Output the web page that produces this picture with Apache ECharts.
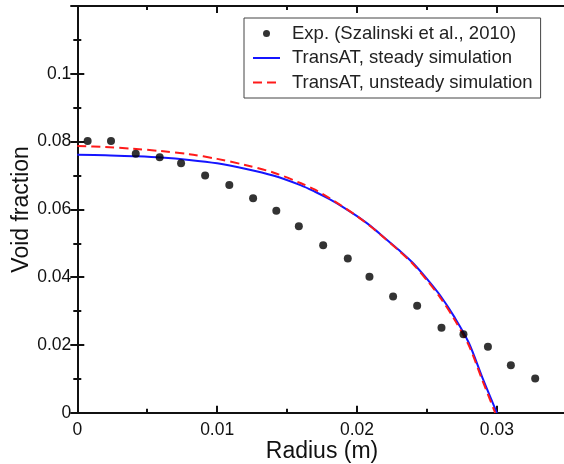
<!DOCTYPE html>
<html>
<head>
<meta charset="utf-8">
<script src="https://cdn.jsdelivr.net/npm/echarts@6/dist/echarts.min.js"></script>
<style>
html,body{margin:0;padding:0;background:#fff;}
#chart{width:564px;height:464px;}
</style>
</head>
<body>
<div id="chart"></div>
<script>
// Experimental data (Szalinski et al., 2010)
const expRadius = [0.00074,0.00241,0.00418,0.00589,0.00742,0.00914,0.01087,0.01257,0.01423,0.01584,0.01758,0.01934,0.02089,0.02258,0.02430,0.02604,0.02761,0.02936,0.03100,0.03274];
const expVoid   = [0.0802,0.0802,0.0764,0.0754,0.0736,0.0700,0.0672,0.0633,0.0596,0.0550,0.0494,0.0455,0.0401,0.0343,0.0316,0.0251,0.0232,0.0195,0.0140,0.0101];

// TransAT steady simulation
const steadyRadius = [0,0.002,0.004,0.006,0.008,0.010,0.012,0.014,0.016,0.017,0.018,0.019,0.020,0.021,0.022,0.023,0.024,0.025,0.026,0.027,0.028,0.029,0.030];
const steadyVoid   = [0.0761,0.0760,0.0757,0.0753,0.0746,0.0736,0.0720,0.0700,0.0671,0.0652,0.0631,0.0607,0.0580,0.0550,0.0515,0.0480,0.0442,0.0395,0.0343,0.0280,0.0206,0.0100,0.0];

// TransAT unsteady simulation
const unsteadyRadius = [0,0.002,0.004,0.006,0.008,0.010,0.012,0.014,0.016,0.017,0.018,0.019,0.020,0.021,0.022,0.023,0.024,0.025,0.026,0.027,0.028,0.029,0.02988];
const unsteadyVoid   = [0.0787,0.0784,0.0779,0.0772,0.0763,0.0749,0.0731,0.0709,0.0677,0.0658,0.0634,0.0608,0.0580,0.0549,0.0514,0.0478,0.0439,0.0391,0.0337,0.0273,0.0198,0.0092,0.0];

const xTicks = {min:0, max:0.035, interval:0.01};
const yTicks = {min:0, max:0.12, interval:0.02};

const seriesNames = ['Exp. (Szalinski et al., 2010)','TransAT, steady simulation','TransAT, unsteady simulation'];

const zip = (a,b) => a.map((v,i)=>[v,b[i]]);
const FONT = 'Liberation Sans, Arial, Helvetica, sans-serif';
const axisLineStyle = {show:true, onZero:false, lineStyle:{color:'#111', width:2}};
const tickStyle = {show:true, inside:true, length:7, lineStyle:{color:'#111', width:2}};
const minorStyle = {show:true, splitNumber:2, length:4, lineStyle:{color:'#111', width:2}};

const chart = echarts.init(document.getElementById('chart'), null, {renderer:'canvas'});
chart.setOption({
  animation:false,
  backgroundColor:'#fff',
  grid:{left:77.3, top:6, width:489.5, height:406.8, containLabel:false, outerBoundsMode:'none'},
  legend:{
    orient:'vertical', left:244, top:18,
    padding:[6,8,6,8], itemGap:5.5,
    itemWidth:27, itemHeight:7,
    backgroundColor:'#fff', borderColor:'#444', borderWidth:1,
    textStyle:{fontFamily:FONT, fontSize:18.5, color:'#222', padding:[0,0,0,7]},
    data:[
      {name:seriesNames[0], icon:'circle'},
      {name:seriesNames[1], itemStyle:{opacity:0}},
      {name:seriesNames[2], itemStyle:{opacity:0}}
    ]
  },
  xAxis:[{
    type:'value', position:'bottom', min:xTicks.min, max:xTicks.max, interval:xTicks.interval,
    name:'Radius (m)', nameLocation:'middle', nameGap:27, nameMoveOverlap:false,
    nameTextStyle:{fontFamily:FONT, fontSize:23, color:'#111'},
    axisLine:axisLineStyle, axisTick:tickStyle, minorTick:minorStyle,
    axisLabel:{fontFamily:FONT, fontSize:17.5, color:'#111', margin:8, showMaxLabel:false},
    splitLine:{show:false}
  },{
    type:'value', position:'top', min:xTicks.min, max:xTicks.max, interval:xTicks.interval,
    axisLine:axisLineStyle, axisTick:tickStyle, minorTick:minorStyle,
    axisLabel:{show:false}, splitLine:{show:false}
  }],
  yAxis:[{
    type:'value', position:'left', min:yTicks.min, max:yTicks.max, interval:yTicks.interval,
    name:'Void fraction', nameLocation:'middle', nameGap:44, nameMoveOverlap:false,
    nameTextStyle:{fontFamily:FONT, fontSize:23, color:'#111'},
    axisLine:axisLineStyle, axisTick:tickStyle, minorTick:minorStyle,
    axisLabel:{fontFamily:FONT, fontSize:17.5, color:'#111', margin:6, showMaxLabel:false},
    splitLine:{show:false}
  },{
    type:'value', position:'right', min:yTicks.min, max:yTicks.max, interval:yTicks.interval,
    axisLine:{show:false}, axisTick:tickStyle, minorTick:minorStyle,
    axisLabel:{show:false}, splitLine:{show:false}
  }],
  series:[
    {
      name:seriesNames[1], type:'line', data:zip(steadyRadius, steadyVoid),
      showSymbol:false, symbol:'none', smooth:0.3,
      lineStyle:{color:'#1515ff', width:2}, itemStyle:{color:'#1515ff'}, z:3
    },
    {
      name:seriesNames[2], type:'line', data:zip(unsteadyRadius, unsteadyVoid),
      showSymbol:false, symbol:'none', smooth:0.3,
      lineStyle:{color:'#ff1a1a', width:2, type:[9,5]}, itemStyle:{color:'#ff1a1a'}, z:4
    },
    {
      name:seriesNames[0], type:'scatter', data:zip(expRadius, expVoid),
      symbol:'circle', symbolSize:8, itemStyle:{color:'#000'}, z:5
    }
  ]
});
</script>
</body>
</html>
